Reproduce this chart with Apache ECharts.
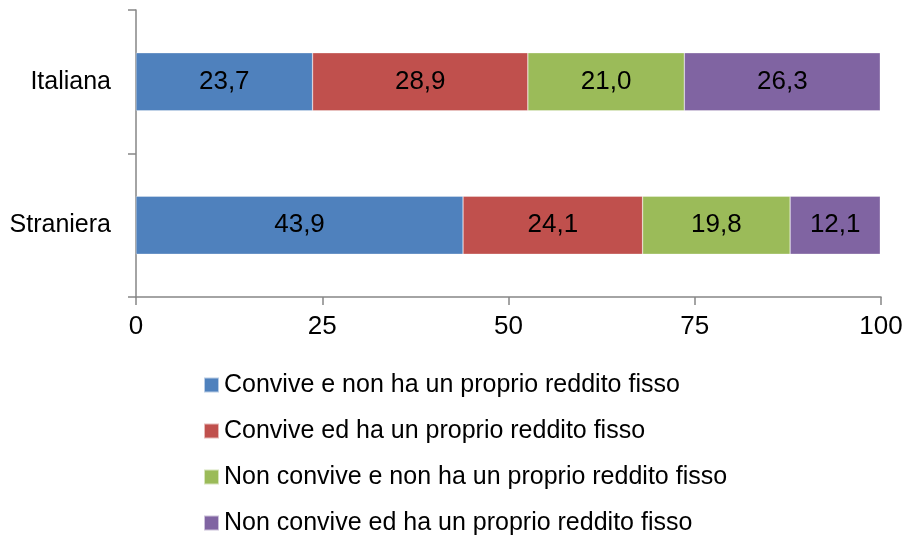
<!DOCTYPE html>
<html>
<head>
<meta charset="utf-8">
<script src="https://cdn.jsdelivr.net/npm/echarts@6/dist/echarts.min.js"></script>
<style>
  html, body { margin: 0; padding: 0; background: #fff; }
  #main { width: 909px; height: 535px; }
</style>
</head>
<body>
<div id="main"></div>
<script>
var categories = ['Straniera', 'Italiana'];
var seriesNames = [
    'Convive e non ha un proprio reddito fisso',
    'Convive ed ha un proprio reddito fisso',
    'Non convive e non ha un proprio reddito fisso',
    'Non convive ed ha un proprio reddito fisso'
];
var conviveNoReddito = [43.9, 23.7];
var conviveReddito = [24.1, 28.9];
var nonConviveNoReddito = [19.8, 21.0];
var nonConviveReddito = [12.1, 26.3];
var xTicks = [0, 25, 50, 75, 100];
var colors = ['#4F81BD', '#C0504D', '#9BBB59', '#8064A2'];

var FONT = 'Liberation Sans';
var chart = echarts.init(document.getElementById('main'));

function makeSeries(name, data, color) {
    return {
        name: name,
        type: 'bar',
        stack: 'tot',
        data: data,
        barWidth: 58,
        itemStyle: { color: color, borderColor: 'rgba(255,255,255,0.6)', borderWidth: 0.5 },
        label: {
            show: true,
            position: 'inside',
            color: '#000',
            fontFamily: FONT,
            fontSize: 26,
            formatter: function (p) {
                return p.value.toFixed(1).replace('.', ',');
            }
        }
    };
}

var option = {
    animation: false,
    color: colors,
    grid: { left: 136, right: 28, top: 10, bottom: 238, containLabel: false },
    legend: {
        orient: 'vertical',
        left: 203,
        top: 372,
        height: 200,
        padding: 0,
        icon: 'rect',
        itemWidth: 15,
        itemHeight: 15,
        itemGap: 20,
        textStyle: { fontFamily: FONT, fontSize: 25, color: '#000', lineHeight: 26 },
        data: seriesNames
    },
    xAxis: {
        type: 'value',
        min: xTicks[0],
        max: xTicks[xTicks.length - 1],
        interval: 25,
        splitLine: { show: false },
        axisLine: { show: true, lineStyle: { color: '#868686', width: 1.5 } },
        axisTick: { show: true, length: 8, lineStyle: { color: '#868686', width: 1.5 } },
        axisLabel: { fontFamily: FONT, fontSize: 26, color: '#000', margin: 17 }
    },
    yAxis: {
        type: 'category',
        data: categories,
        axisLine: { show: true, lineStyle: { color: '#868686', width: 1.5 } },
        axisTick: { show: true, length: 8, lineStyle: { color: '#868686', width: 1.5 } },
        axisLabel: { fontFamily: FONT, fontSize: 25, color: '#000', margin: 25 }
    },
    series: [
        makeSeries(seriesNames[0], conviveNoReddito, colors[0]),
        makeSeries(seriesNames[1], conviveReddito, colors[1]),
        makeSeries(seriesNames[2], nonConviveNoReddito, colors[2]),
        makeSeries(seriesNames[3], nonConviveReddito, colors[3])
    ]
};
chart.setOption(option);
</script>
</body>
</html>
